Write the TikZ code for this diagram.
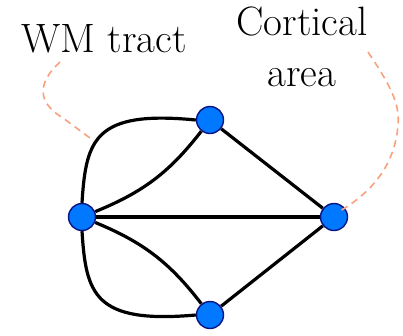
\documentclass[tikz,border=0pt]{standalone}
\usetikzlibrary{calc, backgrounds}
\definecolor{areablue}{RGB}{0,120,255}
\definecolor{areaedge}{RGB}{10,20,130}
\definecolor{leadorange}{RGB}{250,160,125}

\begin{document}
\begin{tikzpicture}[
    x=1pt, y=-1pt,
    area/.style={circle, draw=areaedge, line width=1.4pt, fill=areablue, minimum size=27pt, inner sep=0pt},
    tract/.style={line width=3.2pt, black},
    lbl/.style={font=\fontsize{41}{51}\selectfont, inner sep=0pt},
    leader/.style={draw=leadorange, line width=1.6pt, dash pattern=on 7pt off 5pt},
]
\useasboundingbox (0,0) rectangle (403,335);

% ---------------------------------------------------------------- labels ---
\node[lbl, anchor=base west] (wm) at (21,52) {WM tract};
\node[lbl, anchor=north, align=center] (ctx) at (302,7) {Cortical\\area};
\coordinate (wmstart) at (60,62);
\coordinate (ctxstart) at (368,52);
\coordinate (wmpt) at (94,141);

% --------------------------------------------------------- cortical areas ---
\node[area] (hub) at (82,217) {};
\node[area] (top) at (210,120) {};
\node[area] (right) at (334,217) {};
\node[area] (bottom) at (210,315) {};

% ------------------------------------------------------------ WM tracts ---
\begin{scope}[on background layer]
\draw[tract] (hub.north) .. controls (86,140) and (94,110) .. (top.west);
\draw[tract] (hub) to[bend right=15] (top);
\draw[tract] (hub) -- (right);
\draw[tract] (hub) to[bend left=15] (bottom);
\draw[tract] (hub.south) .. controls (86,294) and (94,324) .. (bottom.west);
\draw[tract] (top) -- (right);
\draw[tract] (bottom) -- (right);
\end{scope}

% -------------------------------------------------------------- leaders ---
\draw[leader] (wmstart) .. controls (38,82) and (36,102) .. (63,118) -- (wmpt);
\draw[leader] (ctxstart) .. controls (390,85) and (400,103) .. (398,125)
  .. controls (395,165) and (372,192) .. ($(right)+(6,-6)$);

\end{tikzpicture}
\end{document}
